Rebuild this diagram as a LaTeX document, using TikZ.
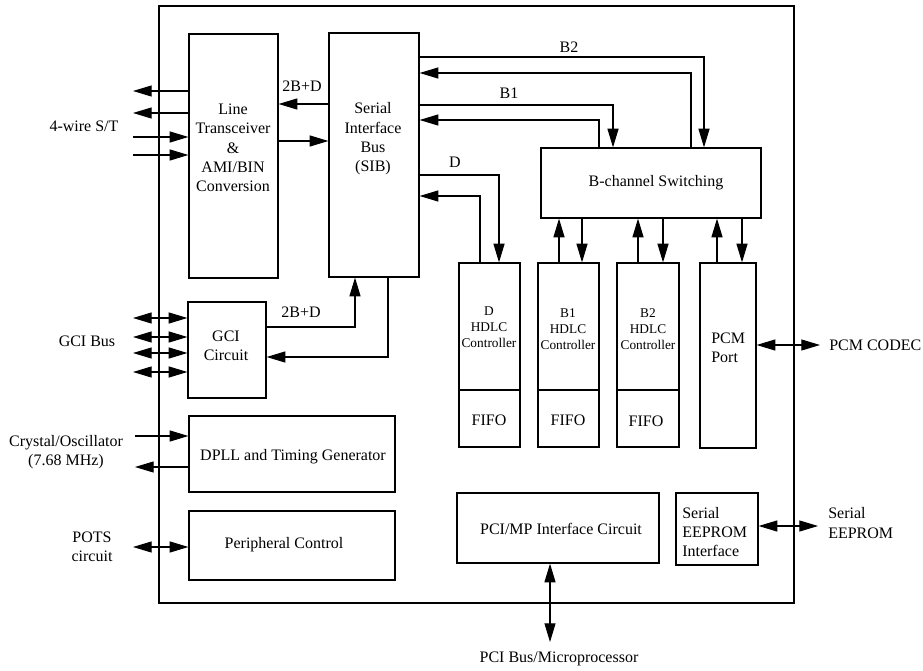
\documentclass[tikz,border=0pt]{standalone}
\usepackage{fontspec}
\setmainfont{Liberation Serif}
\usepackage{xcolor}
\definecolor{Black}{RGB}{0,0,0}
\usetikzlibrary{arrows.meta, fit}

\begin{document}
\begin{tikzpicture}[x=0.75pt, y=-0.75pt,
		block/.style={draw=Black, line width=0.9pt, inner sep=0pt},
		txt/.style={align=center, color=Black, inner sep=0pt, font=\fontsize{12}{14.5}\selectfont},
		smalltxt/.style={txt, font=\fontsize{10}{12}\selectfont},
		wire/.style={draw=Black, line width=0.8pt},
		arr/.style={wire, -{Triangle[length=14pt, width=8.25pt]}},
		darr/.style={wire, {Triangle[length=14pt, width=8.25pt]}-{Triangle[length=14pt, width=8.25pt]}}]
		
		\useasboundingbox (0,0) rectangle (923,670);
		
		% Blocks
		\node[block, fit={(159,6) (794,603)}] (chip) {};
		\node[block, fit={(189,34) (278,278)}] (lt) {};
		\node[block, fit={(329,33) (419,277)}] (sib) {};
		\node[block, fit={(541,148) (761,218)}] (bcs) {};
		\node[block, fit={(459,263) (520,390)}] (dctl) {};
		\node[block, fit={(459,390) (520,447)}] (dfifo) {};
		\node[block, fit={(538,263) (599,390)}] (b1ctl) {};
		\node[block, fit={(538,390) (599,447)}] (b1fifo) {};
		\node[block, fit={(617,263) (679,390)}] (b2ctl) {};
		\node[block, fit={(617,390) (679,447)}] (b2fifo) {};
		\node[block, fit={(700,263) (756,448)}] (pcm) {};
		\node[block, fit={(188,302) (266,398)}] (gci) {};
		\node[block, fit={(189,416) (395,492)}] (dpll) {};
		\node[block, fit={(189,511) (395,580)}] (per) {};
		\node[block, fit={(457,493) (659,563)}] (pci) {};
		\node[block, fit={(676,493) (758,565)}] (see) {};
		
		% Names
		\node[txt] (ltname) at (233,148) {Line\\Transceiver\\\&\\AMI/BIN\\Conversion};
		\node[txt] (sibname) at (373,139) {Serial\\Interface\\Bus\\(SIB)};
		\node[txt] (bcsname) at (656,183) {B-channel Switching};
		\node[smalltxt] (dname) at (489,327) {D\\HDLC\\Controller};
		\node[smalltxt] (b1name) at (568,329) {B1\\HDLC\\Controller};
		\node[smalltxt] (b2name) at (648,329) {B2\\HDLC\\Controller};
		\node[txt] (dfifoname) at (489,420) {FIFO};
		\node[txt] (b1fifoname) at (568,420) {FIFO};
		\node[txt] (b2fifoname) at (646,421) {FIFO};
		\node[txt, align=left, anchor=west] (pcmname) at (711,348) {PCM\\Port};
		\node[txt] (gciname) at (226,346) {GCI\\Circuit};
		\node[txt] (dpllname) at (293,457) {DPLL and Timing Generator};
		\node[txt] (pername) at (284,545) {Peripheral Control};
		\node[txt] (pciname) at (561,529) {PCI/MP Interface Circuit};
		\node[txt, align=left, anchor=west] (seename) at (682,532) {Serial\\EEPROM\\Interface};
		
		% Outside
		\node[txt] (stlabel) at (84,126) {4-wire S/T};
		\node[txt] (gcilabel) at (87,341) {GCI Bus};
		\node[txt] (xtallabel) at (66,452) {Crystal/Oscillator\\(7.68 MHz)};
		\node[txt] (potslabel) at (92,547) {POTS\\circuit};
		\node[txt, anchor=west] (codeclabel) at (829,345) {PCM CODEC};
		\node[txt, align=left, anchor=west] (eepromlabel) at (828,523) {Serial\\EEPROM};
		\node[txt] (pcilabel) at (559,659) {PCI Bus/Microprocessor};
		
		% Buses
		\node[txt] (ltbus) at (302,86) {2B+D};
		\node[txt] (gcibus) at (301,312) {2B+D};
		\node[txt] (btwo) at (569,47) {B2};
		\node[txt] (bone) at (509,93) {B1};
		\node[txt] (dchan) at (455,162) {D};
		
		% Exchange
		\coordinate (st1) at (133,91);
		\coordinate (st2) at (133,113);
		\coordinate (st3) at (133,137);
		\coordinate (st4) at (133,155);
		\draw[arr] (lt.west |- st1) -- (st1);
		\draw[arr] (lt.west |- st2) -- (st2);
		\draw[arr] (st3) -- (lt.west |- st3);
		\draw[arr] (st4) -- (lt.west |- st4);
		
		\draw[arr] (sib.west |- 0,104) -- (lt.east |- 0,104);
		\draw[arr] (lt.east |- 0,141) -- (sib.west |- 0,141);
		
		\draw[arr] (sib.east |- 0,57) -| (704,0 |- bcs.north);
		\draw[arr] (691,0 |- bcs.north) |- (sib.east |- 0,73);
		\draw[arr] (sib.east |- 0,105) -| (613,0 |- bcs.north);
		\draw[arr] (599,0 |- bcs.north) |- (sib.east |- 0,120);
		\draw[arr] (sib.east |- 0,175) -| (499,0 |- dctl.north);
		\draw[arr] (480,0 |- dctl.north) |- (sib.east |- 0,196);
		
		\foreach \up/\dn/\blk in {559/582/b1ctl, 638/663/b2ctl, 717/742/pcm} {
			\draw[arr] (\up,0 |- \blk.north) -- (\up,0 |- bcs.south);
			\draw[arr] (\dn,0 |- bcs.south) -- (\dn,0 |- \blk.north);
		}
		
		\foreach \y [count=\i] in {318,337,353,372} {
			\coordinate (gb\i) at (133,\y);
			\draw[darr] (gb\i) -- (gci.west |- gb\i);
		}
		\draw[arr] (gci.east |- 0,327) -| (355,0 |- sib.south);
		\draw[arr] (388,0 |- sib.south) |- (gci.east |- 0,357);
		
		\coordinate (xin) at (135,436);
		\coordinate (xout) at (135,467);
		\draw[arr] (xin) -- (dpll.west |- xin);
		\draw[arr] (dpll.west |- xout) -- (xout);
		
		\coordinate (pots) at (133,547);
		\draw[darr] (pots) -- (per.west |- pots);
		
		\coordinate (codec) at (820,345);
		\draw[darr] (pcm.east |- codec) -- (codec);
		
		\coordinate (eeprom) at (818,526);
		\draw[darr] (see.east |- eeprom) -- (eeprom);
		
		\coordinate (pcibus) at (550,642);
		\draw[darr] (pci.south -| pcibus) -- (pcibus);
		
	\end{tikzpicture}
\end{document}
